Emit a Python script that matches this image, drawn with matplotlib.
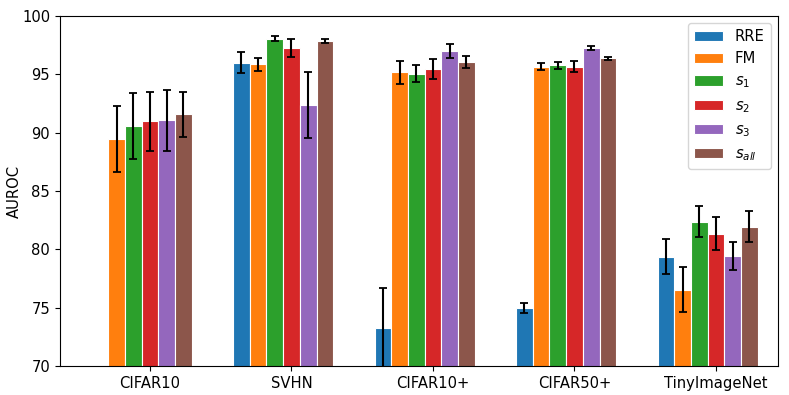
import numpy as np
import matplotlib
matplotlib.use("Agg")
from matplotlib import pyplot as plt

datasets = ["CIFAR10", "SVHN", "CIFAR10+", "CIFAR50+", "TinyImageNet"]
methods = ["RRE", "FM", "$s_1$", "$s_2$", "$s_3$", "$s_{all}$"]
colors = ["#1f77b4", "#ff7f0e", "#2ca02c", "#d62728", "#9467bd", "#8c564b"]

# mean AUROC per method, one value per dataset
rre = [np.nan, 96.0, 73.3, 75.0, 79.35]
fm = [89.45, 95.85, 95.15, 95.65, 76.55]
s1 = [90.55, 98.05, 95.05, 95.75, 82.35]
s2 = [90.95, 97.25, 95.45, 95.65, 81.35]
s3 = [91.05, 92.35, 96.95, 97.25, 79.45]
s_all = [91.55, 97.85, 96.05, 96.35, 81.95]

# standard deviations
rre_std = [np.nan, 0.9, 3.4, 0.45, 1.5]
fm_std = [2.85, 0.55, 0.95, 0.3, 1.93]
s1_std = [2.8, 0.2, 0.7, 0.3, 1.33]
s2_std = [2.5, 0.8, 0.85, 0.5, 1.44]
s3_std = [2.6, 2.8, 0.6, 0.15, 1.2]
s_all_std = [1.9, 0.2, 0.55, 0.15, 1.35]

means = [rre, fm, s1, s2, s3, s_all]
stds = [rre_std, fm_std, s1_std, s2_std, s3_std, s_all_std]


def main():
    fig, ax = plt.subplots(figsize=(7.89, 3.95), dpi=100)
    fig.subplots_adjust(left=0.076, right=0.986, top=0.96, bottom=0.073)

    x = np.arange(len(datasets))
    w = 0.118
    for i, (m, s) in enumerate(zip(means, stds)):
        ax.bar(x + (i - 3) * w, m, w, yerr=s, color=colors[i], label=methods[i],
               edgecolor="white", linewidth=0.8, capsize=3,
               error_kw=dict(elinewidth=1.5, capthick=1.3, ecolor="black"))

    ax.set_xticks(x)
    ax.set_xticklabels(datasets, fontsize=10.6)
    ax.set_ylim(70, 100)
    ax.set_xlim(-0.636, 4.438)
    ax.set_yticks(range(70, 101, 5))
    ax.tick_params(axis="y", labelsize=10.6)
    ax.set_ylabel("AUROC", fontsize=10.6, labelpad=0)
    ax.legend(loc="upper right", fontsize=10.6)

    fig.savefig("out.png", dpi=100)


if __name__ == '__main__':
    main()
